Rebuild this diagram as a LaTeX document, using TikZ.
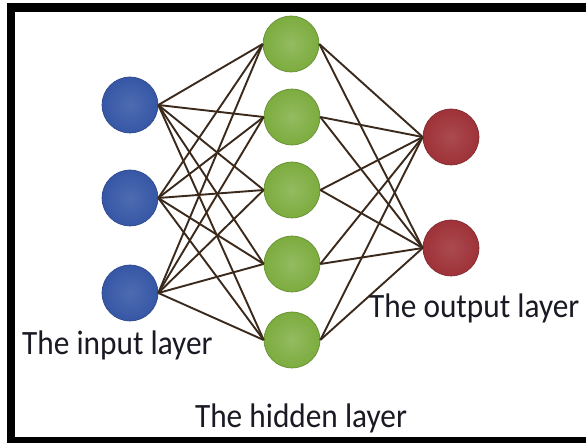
\documentclass[tikz,border=0pt]{standalone}
\usepackage{fontspec}
\usepackage{graphicx}
\setmainfont{Carlito}
\newcommand{\tallt}[1]{\scalebox{1.01}[1.1]{#1}}
\begin{document}
\begin{tikzpicture}[x=1pt,y=-1pt,
  neuron/.style={circle,minimum size=56pt,inner sep=0pt,shading=radial,line width=0.6pt},
  inp/.style={neuron,inner color=blueC!88!white,outer color=blueC,draw=blueC!80!black},
  hid/.style={neuron,inner color=greenC!82!white,outer color=greenC,draw=greenC!80!black},
  outp/.style={neuron,inner color=redC!88!white,outer color=redC,draw=redC!80!black},
  conn/.style={draw=lineC,line width=1.9pt},
  lbl/.style={font=\fontsize{31}{36}\selectfont,text=textC,inner sep=0pt}]
\definecolor{blueC}{HTML}{3657A6}
\definecolor{greenC}{HTML}{7CAC3E}
\definecolor{redC}{HTML}{9E3238}
\definecolor{lineC}{HTML}{3B2A1C}
\definecolor{textC}{HTML}{1A1A24}
\useasboundingbox (0,0) rectangle (586,443);
\fill[white] (0,0) rectangle (586,443);
\begin{scope}
\clip (0,0) rectangle (586,443);
\draw[line width=8.5pt,black] (11,7.5) rectangle (600,441.5);
\end{scope}
\node[inp] (i1) at (130,105) {};
\node[inp] (i2) at (130,198) {};
\node[inp] (i3) at (130,293) {};
\node[hid] (h1) at (291,44) {};
\node[hid] (h2) at (292,117) {};
\node[hid] (h3) at (292,190) {};
\node[hid] (h4) at (292,264) {};
\node[hid] (h5) at (292,340) {};
\node[outp] (o1) at (451,137) {};
\node[outp] (o2) at (451,248) {};
\foreach \i in {1,2,3}{
  \foreach \h in {1,...,5}{
    \draw[conn] (i\i.east) -- (h\h.west);
  }
}
\foreach \h in {1,...,5}{
  \foreach \o in {1,2}{
    \draw[conn] (h\h.east) -- (o\o.west);
  }
}
\node[lbl,anchor=base west] (tin) at (22,355) {\tallt{The input layer}};
\node[lbl,anchor=base west] (tout) at (369,318) {\tallt{The output layer}};
\node[lbl,anchor=base] (thid) at (301,427) {\tallt{The hidden layer}};
\end{tikzpicture}
\end{document}
